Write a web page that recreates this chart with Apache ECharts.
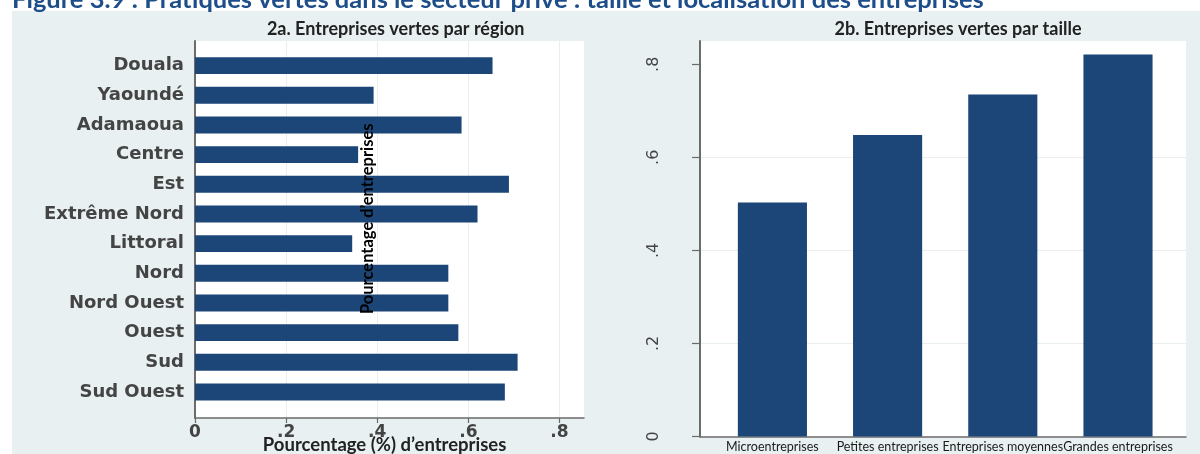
<!DOCTYPE html>
<html><head><meta charset="utf-8">
<script src="https://cdn.jsdelivr.net/npm/echarts@6/dist/echarts.min.js"></script>
<style>
html,body{margin:0;padding:0;background:#fff}
#wrap{position:relative;width:1200px;height:454px;background:#fff;overflow:hidden}
#panel{position:absolute;left:12px;top:11px;right:0;bottom:0;background:#e8f0f1}
#c{position:absolute;left:0;top:0;width:1200px;height:454px}
</style>
</head><body>
<div id="wrap"><div id="panel"></div><div id="c"></div></div>
<script>
const regions = ['Douala','Yaoundé','Adamaoua','Centre','Est','Extrême Nord','Littoral','Nord','Nord Ouest','Ouest','Sud','Sud Ouest'];
const regionValues = [0.653, 0.392, 0.585, 0.358, 0.689, 0.620, 0.345, 0.556, 0.556, 0.578, 0.708, 0.680];
const sizes = ['Microentreprises','Petites entreprises','Entreprises moyennes','Grandes entreprises'];
const sizeValues = [0.503, 0.648, 0.735, 0.821];
const tickValues = [0, 0.2, 0.4, 0.6, 0.8];
const figureTitle = 'Figure 3.9 : Pratiques vertes dans le secteur privé : taille et localisation des entreprises';
const titleA = '2a. Entreprises vertes par région';
const titleB = '2b. Entreprises vertes par taille';
const xNameA = 'Pourcentage (%) d\u2019entreprises';
const overlayName = 'Pourcentage d\u2019entreprises';

function fmt(v){ return Math.abs(v) < 1e-9 ? '0' : '.' + Math.round(v * 10); }

const BAR = '#1c4677';
const AX = '#6b6b6b';
const GRIDC = '#e9eef1';

const chart = echarts.init(document.getElementById('c'), null, {renderer: 'canvas'});
const option = {
  animation: false,
  backgroundColor: 'transparent',
  graphic: [
    {type: 'text', x: 12, y: 0, style: {text: figureTitle, x: 0, y: 0, textAlign: 'left', textVerticalAlign: 'middle',
      fontFamily: 'Lato', fontWeight: 'bold', fontSize: 25.5, fill: '#1d4e89'}},
    {type: 'text', x: 395.7, y: 29, style: {text: titleA, textAlign: 'center', textVerticalAlign: 'middle',
      fontFamily: 'Lato', fontWeight: 'bold', fontSize: 18, fill: '#222'}},
    {type: 'text', x: 958, y: 29, style: {text: titleB, textAlign: 'center', textVerticalAlign: 'middle',
      fontFamily: 'Lato', fontWeight: 'bold', fontSize: 18, fill: '#222'}},
    {type: 'text', x: 384.6, y: 445, style: {text: xNameA, textAlign: 'center', textVerticalAlign: 'middle',
      fontFamily: 'Lato', fontWeight: 'bold', fontSize: 18.5, fill: '#222'}},
    {type: 'text', x: 367.5, y: 218.7, rotation: Math.PI / 2, z: 100, style: {text: overlayName, textAlign: 'center', textVerticalAlign: 'middle',
      fontFamily: 'Lato', fontWeight: 'bold', fontSize: 16.5, fill: '#000'}}
  ],
  grid: [
    {left: 195, top: 41, width: 389, height: 377, show: true, backgroundColor: '#fff', borderWidth: 0},
    {left: 195, top: 50.8, width: 387.3, height: 356},
    {left: 700, top: 41, width: 486, height: 395.5, show: true, backgroundColor: '#fff', borderWidth: 0},
    {left: 714.8, top: 41, width: 460.8, height: 395.5}
  ],
  xAxis: [
    {gridIndex: 0, type: 'value', min: 0, max: 389 / 455.6, interval: 0.2,
      axisLine: {show: true, onZero: false, lineStyle: {color: AX, width: 1.5}},
      axisTick: {show: false}, axisLabel: {show: false},
      splitLine: {show: true, showMinLine: false, showMaxLine: false, lineStyle: {color: GRIDC, width: 1}}},
    {gridIndex: 1, type: 'value', min: 0, max: 0.85, offset: 11.2,
      axisLine: {show: false},
      axisTick: {show: true, customValues: tickValues, length: 5, lineStyle: {color: AX, width: 1.2}},
      axisLabel: {show: true, customValues: tickValues, formatter: fmt, margin: 6,
        fontFamily: 'DejaVu Sans', fontWeight: 'bold', fontSize: 17, color: '#444'},
      splitLine: {show: false}},
    {gridIndex: 2, type: 'value', min: 0, max: 1,
      axisLine: {show: true, onZero: false, lineStyle: {color: AX, width: 1.5}},
      axisTick: {show: false}, axisLabel: {show: false}, splitLine: {show: false}},
    {gridIndex: 3, type: 'category', data: sizes,
      axisLine: {show: false}, axisTick: {show: false},
      axisLabel: {show: true, interval: 0, margin: 4, fontFamily: 'Lato', fontSize: 12.5, color: '#1a1a1a'}}
  ],
  yAxis: [
    {gridIndex: 0, type: 'value', min: 0, max: 1,
      axisLine: {show: true, onZero: false, lineStyle: {color: AX, width: 2}},
      axisTick: {show: false}, axisLabel: {show: false}, splitLine: {show: false}},
    {gridIndex: 1, type: 'category', data: regions, inverse: true,
      axisLine: {show: false}, axisTick: {show: false},
      axisLabel: {show: true, interval: 0, margin: 11,
        fontFamily: 'DejaVu Sans', fontWeight: 'bold', fontSize: 18, color: '#444'}},
    {gridIndex: 2, type: 'value', min: 0, max: 0.85, interval: 0.2,
      axisLine: {show: true, onZero: false, lineStyle: {color: AX, width: 2}},
      axisTick: {show: true, customValues: tickValues, length: 8, lineStyle: {color: AX, width: 1.2}},
      axisLabel: {show: true, customValues: tickValues, formatter: fmt, rotate: 90, margin: 38,
        fontFamily: 'DejaVu Sans', fontSize: 16, color: '#444'},
      splitLine: {show: true, showMinLine: false, showMaxLine: false, lineStyle: {color: GRIDC, width: 1}}},
    {gridIndex: 3, type: 'value', min: 0, max: 0.85, show: false}
  ],
  series: [
    {type: 'bar', xAxisIndex: 1, yAxisIndex: 1, data: regionValues, barWidth: '57%',
      itemStyle: {color: BAR}, silent: true},
    {type: 'bar', xAxisIndex: 3, yAxisIndex: 3, data: sizeValues, barWidth: '60%',
      itemStyle: {color: BAR}, silent: true}
  ]
};
chart.setOption(option);
</script>
</body></html>
